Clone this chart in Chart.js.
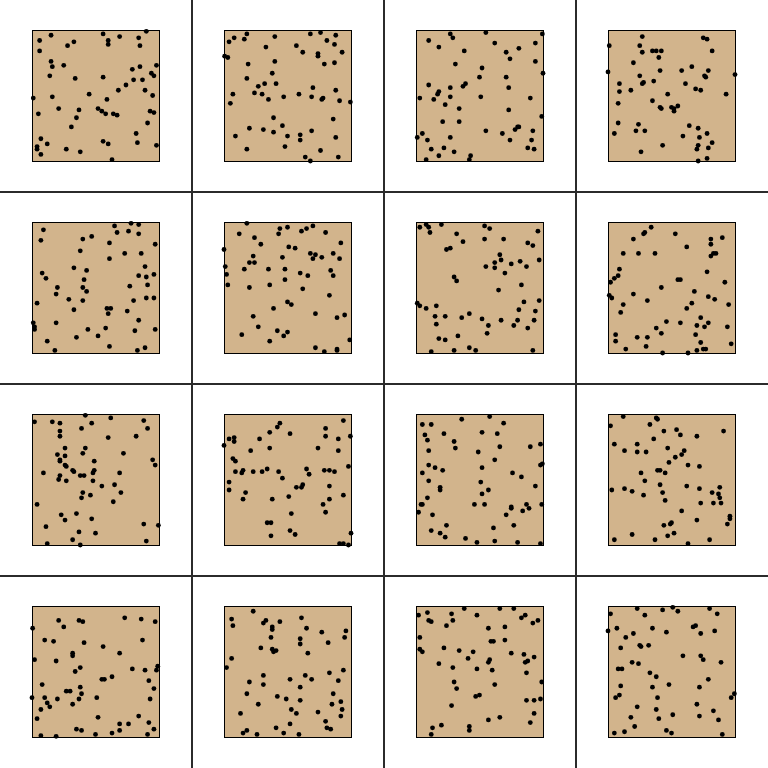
<!DOCTYPE html>
<html>
<head>
<meta charset="utf-8">
<script src="https://cdn.jsdelivr.net/npm/chart.js@4.4.1/dist/chart.umd.min.js"></script>
<style>
  html, body { margin: 0; padding: 0; background: #fff; }
  #grid { position: relative; width: 768px; height: 768px; overflow: hidden; }
  .cell { position: absolute; width: 192px; height: 192px; }
  .vline { position: absolute; top: 0; width: 2px; height: 768px; background: #2b2b2b; }
  .hline { position: absolute; left: 0; height: 2px; width: 768px; background: #2b2b2b; }
</style>
</head>
<body>
<div id="grid"></div>
<script>
// 16 panels, each a list of [x, y] points on a 0..100 scale
const panel1 = [[15,96],[56,97],[90,99],[6,92],[33,91],[28,88],[60,92],[60,89],[69,95],[84,94],[85,88],[6,84],[15,76],[16,72],[25,73],[98,73],[79,70],[85,72],[14,65],[34,63],[56,64],[94,67],[96,65],[80,62],[87,62],[74,58],[68,54],[89,54],[1,48],[16,49],[45,51],[59,47],[95,50],[21,40],[37,39],[52,40],[55,38],[58,36],[64,36],[67,35],[93,38],[96,37],[5,36],[35,33],[91,29],[31,26],[7,17],[12,13],[4,11],[4,9],[7,5],[27,9],[38,7],[56,15],[60,13],[63,1],[82,21],[83,14],[98,12]];
const panel2 = [[18,97],[8,94],[4,91],[16,93],[40,95],[68,97],[76,98],[88,96],[81,92],[87,89],[57,88],[33,87],[62,83],[74,82],[74,80],[93,83],[0.5,80],[3,79],[19,74],[40,76],[79,74],[87,75],[38,67],[18,63],[32,59],[41,59],[27,57],[24,52],[30,51],[35,47],[70,56],[59,51],[47,49],[69,49],[77,47],[78,48],[88,54],[91,46],[99.5,45],[7,51],[5,44],[39,33],[86,32],[20,25],[31,24],[39,22],[46,27],[69,23],[9,19],[50,19],[60,20],[60,16],[88,18],[18,9],[48,11],[76,8],[64,3],[68,0],[90,3]];
const panel3 = [[27,97],[29,94],[55,98],[99.5,97],[10,92],[18,87],[38,84],[62,90],[71,83],[81,86],[94,90],[74,78],[94,76],[31,74],[52,71],[100,67],[50,64],[71,64],[10,58],[39,59],[37,57],[27,56],[73,56],[18,53],[17,51],[27,49],[51,49],[3,48],[14,47],[90,48],[23,43],[34,40],[73,39],[99,34],[21,30],[34,30],[55,23],[68,21],[78,24],[80,26],[81,26],[92,23],[5,21],[1,18],[9,16],[27,18],[74,16],[91,16],[12,9],[22,10],[30,7],[88,10],[93,9],[18,4],[8,1],[43,4],[42,1]];
const panel4 = [[27,95],[1,88],[25,88],[27,83],[35,84],[38,84],[42,84],[75,94],[78,93],[82,84],[40,79],[20,75],[0,68],[25,65],[28,60],[27,59],[41,69],[36,61],[58,69],[66,72],[76,65],[77,64],[79,69],[100,66],[61,59],[69,55],[73,54],[93,51],[9,59],[9,53],[18,54],[47,51],[8,44],[35,46],[41,41],[42,40],[50,41],[52,40],[52,38],[55,42],[8,29],[24,28],[5,21],[22,23],[29,23],[64,27],[71,25],[59,19],[72,18],[78,21],[82,14],[71,12],[70,9],[79,10],[43,12],[26,7],[71,0],[78,2]];
const panel5 = [[9,94],[7,86],[65,97],[78,99],[84,98],[67,92],[76,93],[84,91],[40,87],[47,89],[61,84],[97,83],[38,78],[73,76],[86,76],[61,72],[33,65],[43,63],[89,66],[8,61],[11,57],[41,56],[84,59],[90,58],[96,60],[20,50],[40,50],[43,47],[77,51],[91,52],[19,45],[29,41],[40,40],[4,38],[80,40],[90,42],[96,42],[33,33],[59,34],[62,34],[60,30],[75,32],[1,23],[2,20],[2,18],[19,23],[84,25],[44,18],[58,19],[81,17],[97,18],[12,9],[35,12],[52,13],[61,5],[18,2],[83,2],[89,4]];
const panel6 = [[18,99],[12,91],[44,95],[50,96],[43,91],[61,93],[65,95],[70,97],[80,92],[24,88],[29,83],[92,84],[0,79],[51,81],[56,80],[23,74],[20,69],[24,69],[46,73],[68,76],[72,75],[70,72],[77,73],[86,76],[91,72],[1,66],[2,60],[16,64],[35,64],[48,64],[48,56],[60,61],[66,59],[84,63],[86,59],[3,52],[20,50],[36,52],[62,49],[83,44],[50,39],[53,37],[39,34],[72,30],[23,28],[89,27],[95,29],[27,20],[42,17],[50,16],[47,13],[14,14],[36,9],[99,10],[72,4],[79,1],[89,3],[89,2]];
const panel7 = [[3,96],[8,98],[10,96],[11,92],[20,98],[32,91],[37,85],[54,97],[58,95],[54,87],[69,87],[96,93],[88,84],[92,82],[24,79],[27,80],[66,75],[67,71],[97,71],[55,66],[62,69],[62,65],[75,68],[82,70],[87,66],[70,61],[30,58],[32,55],[83,52],[65,48],[1,38],[3,36],[8,34],[16,36],[85,39],[97,40],[81,33],[94,32],[15,28],[23,28],[16,22],[36,27],[42,30],[52,26],[57,21],[67,25],[80,25],[77,21],[93,25],[88,19],[56,15],[33,13],[18,11],[23,10],[12,1],[30,2],[42,4],[47,2],[92,2]];
const panel8 = [[34,96],[29,92],[28,91],[20,87],[53,91],[90,88],[81,87],[81,83],[62,81],[12,76],[24,76],[37,76],[83,76],[85,76],[81,74],[9,64],[8,59],[5,57],[2,54],[78,62],[55,56],[57,56],[92,54],[42,50],[1,44],[3,42],[20,45],[68,47],[79,43],[84,41],[31,40],[66,38],[95,37],[12,37],[10,31],[62,34],[73,27],[46,24],[57,23],[70,21],[76,20],[79,23],[94,20],[38,19],[42,15],[69,14],[6,14],[6,9],[23,12],[31,12],[73,8],[14,3],[30,5],[43,0],[63,0],[70,2],[75,3],[77,3],[97,7]];
const panel9 = [[2,94],[16,94],[22,93],[42,99],[62,97],[47,93],[39,89],[88,95],[91,89],[22,87],[22,83],[60,82],[82,83],[26,74],[42,74],[40,70],[20,69],[26,68],[72,70],[22,65],[22,64],[26,61],[27,60],[49,64],[95,65],[97,61],[32,57],[33,56],[49,57],[48,55],[38,53],[41,53],[9,55],[22,53],[21,50],[27,49],[48,49],[69,55],[55,45],[65,46],[40,40],[39,36],[46,38],[70,40],[64,33],[4,31],[23,23],[35,24],[26,19],[47,20],[11,14],[37,10],[50,9],[32,4],[12,1],[38,0],[88,16],[99.5,15],[90,3]];
const panel10 = [[0,76],[4,81],[8,82],[8,79],[28,81],[36,86],[42,90],[44,93],[52,85],[36,74],[21,72],[80,89],[80,83],[94,95],[99.5,83],[90,81],[74,74],[90,72],[7,66],[9,64],[9,56],[14,55],[15,57],[23,56],[30,56],[34,58],[43,56],[46,51],[65,58],[67,54],[79,57],[83,57],[87,56],[98,60],[4,48],[4,42],[17,40],[15,35],[38,35],[51,37],[57,44],[61,44],[62,46],[83,45],[83,35],[94,38],[78,31],[80,25],[53,24],[34,17],[37,17],[52,11],[56,8],[37,7],[100,9],[91,1],[94,1],[98,0]];
const panel11 = [[5,92],[12,92],[36,96],[58,98],[69,93],[7,84],[22,85],[52,86],[64,85],[9,80],[30,79],[31,74],[10,72],[49,71],[66,75],[90,75],[98,77],[62,65],[10,61],[15,59],[21,57],[52,59],[98,61],[99.5,62],[5,55],[76,55],[83,52],[10,49],[51,48],[94,45],[19,44],[19,42],[57,42],[52,39],[9,36],[4,31],[5,31],[46,31],[54,31],[75,29],[75,28],[87,31],[89,28],[99,31],[2,25],[13,23],[71,23],[84,26],[24,15],[77,15],[61,13],[12,11],[19,9],[23,6],[39,5],[48,2],[62,3],[80,2],[98,1]];
const panel12 = [[12,98],[2,91],[38,97],[39,96],[33,92],[44,87],[54,88],[57,84],[36,81],[70,83],[91,87],[5,77],[23,77],[13,72],[23,71],[30,71],[47,74],[60,72],[58,69],[53,67],[48,63],[63,61],[72,60],[39,57],[41,57],[45,55],[26,55],[29,49],[41,46],[62,45],[13,43],[3,42],[19,41],[28,38],[43,40],[45,34],[72,43],[82,40],[87,39],[88,44],[88,36],[83,32],[89,32],[73,32],[58,26],[70,19],[96,22],[96,20],[94,16],[50,17],[49,16],[44,15],[47,7],[52,9],[19,8],[37,4],[5,4],[63,1],[80,4]];
const panel13 = [[0.5,83],[21,89],[25,84],[37,89],[40,88],[73,91],[86,90],[97,88],[10,74],[17,73],[41,72],[87,74],[56,69],[32,64],[32,62],[69,64],[2,59],[19,58],[38,53],[34,50],[79,52],[89,51],[99,54],[98,51],[55,44],[57,44],[63,46],[92,43],[8,40],[38,38],[27,35],[30,35],[39,33],[96,37],[0,30],[10,30],[20,29],[37,29],[51,30],[93,29],[12,26],[14,23],[7,21],[32,25],[4,14],[52,15],[84,16],[92,11],[69,10],[76,10],[35,6],[39,5],[69,5],[63,3],[50,2],[7,1],[19,0.5],[91,2],[96,6]];
const panel14 = [[23,96],[6,90],[7,85],[31,87],[33,89],[38,84],[38,82],[44,88],[61,91],[65,83],[77,80],[96,81],[95,76],[82,72],[37,76],[60,75],[60,71],[29,68],[38,67],[41,66],[39,65],[66,64],[6,60],[2,53],[31,47],[20,42],[31,40],[52,44],[64,47],[69,44],[60,38],[83,49],[94,51],[90,43],[18,33],[42,31],[49,29],[60,28],[86,33],[92,27],[85,25],[27,25],[13,18],[53,21],[57,18],[74,19],[93,21],[92,16],[80,12],[52,10],[41,7],[81,7],[84,6],[18,5],[15,3],[26,2],[47,3],[59,2]];
const panel15 = [[2,93],[9,95],[28,94],[38,98],[66,98],[77,98],[48,93],[10,89],[12,88],[29,89],[24,85],[83,91],[86,93],[92,87],[96,89],[57,83],[70,84],[3,76],[59,73],[61,73],[70,74],[3,67],[5,65],[22,68],[34,66],[45,65],[41,60],[75,64],[85,63],[93,61],[58,59],[57,57],[86,57],[88,58],[18,56],[29,53],[48,52],[60,51],[87,49],[30,42],[32,37],[62,40],[99,42],[47,31],[50,32],[28,24],[87,28],[93,28],[98,29],[93,18],[66,15],[57,13],[90,11],[20,9],[13,7],[42,8],[42,5],[12,2]];
const panel16 = [[23,98],[43,97],[51,99],[55,96],[80,98],[86,94],[2,94],[29,93],[0,81],[7,83],[35,83],[46,80],[67,84],[69,85],[73,79],[84,81],[20,79],[14,76],[25,70],[26,69],[32,70],[10,68],[59,62],[73,62],[75,59],[89,57],[19,57],[24,56],[11,52],[8,52],[33,49],[38,46],[79,44],[10,39],[35,38],[48,40],[72,38],[9,32],[6,30],[39,30],[97,30],[99.5,33],[23,23],[38,21],[70,25],[83,20],[18,15],[40,14],[51,17],[72,16],[87,13],[21,8],[5,3],[13,4],[46,5],[50,3],[90,2]];

const panels = [panel1, panel2, panel3, panel4, panel5, panel6, panel7, panel8,
                panel9, panel10, panel11, panel12, panel13, panel14, panel15, panel16];

// tan square with a black frame behind the dots
const panelBox = {
    id: 'panelBox',
    beforeDatasetsDraw(chart) {
        const { ctx, chartArea: a } = chart;
        ctx.save();
        ctx.fillStyle = '#d2b48c';
        ctx.fillRect(a.left, a.top, a.right - a.left, a.bottom - a.top);
        ctx.strokeStyle = '#000';
        ctx.lineWidth = 1;
        ctx.strokeRect(a.left + 0.5, a.top + 0.5, a.right - a.left, a.bottom - a.top);
        ctx.restore();
    }
};

const grid = document.getElementById('grid');

const makePanel = (points, i) => {
    const cell = document.createElement('div');
    cell.className = 'cell';
    cell.style.left = (192 * (i % 4)) + 'px';
    cell.style.top = (192 * Math.floor(i / 4)) + 'px';
    const canvas = document.createElement('canvas');
    canvas.width = 192; canvas.height = 192;
    cell.appendChild(canvas);
    grid.appendChild(cell);

    new Chart(canvas, {
        type: 'scatter',
        data: {
            datasets: [{
                data: points.map(p => ({ x: p[0], y: p[1] })),
                backgroundColor: '#000',
                borderWidth: 0,
                pointRadius: 2.4,
                clip: false
            }]
        },
        options: {
            responsive: false,
            animation: false,
            events: [],
            layout: { padding: { left: 32, top: 30, right: 33, bottom: 31 } },
            plugins: { legend: { display: false }, tooltip: { enabled: false } },
            scales: {
                x: { type: 'linear', min: 0, max: 100, display: false },
                y: { type: 'linear', min: 0, max: 100, display: false }
            }
        },
        plugins: [panelBox]
    });
};

panels.forEach(makePanel);

// separator lines between the cells
for (let k = 1; k < 4; k++) {
    const v = document.createElement('div');
    v.className = 'vline';
    v.style.left = (192 * k - 1) + 'px';
    grid.appendChild(v);
    const h = document.createElement('div');
    h.className = 'hline';
    h.style.top = (192 * k - 1) + 'px';
    grid.appendChild(h);
}
</script>
</body>
</html>
